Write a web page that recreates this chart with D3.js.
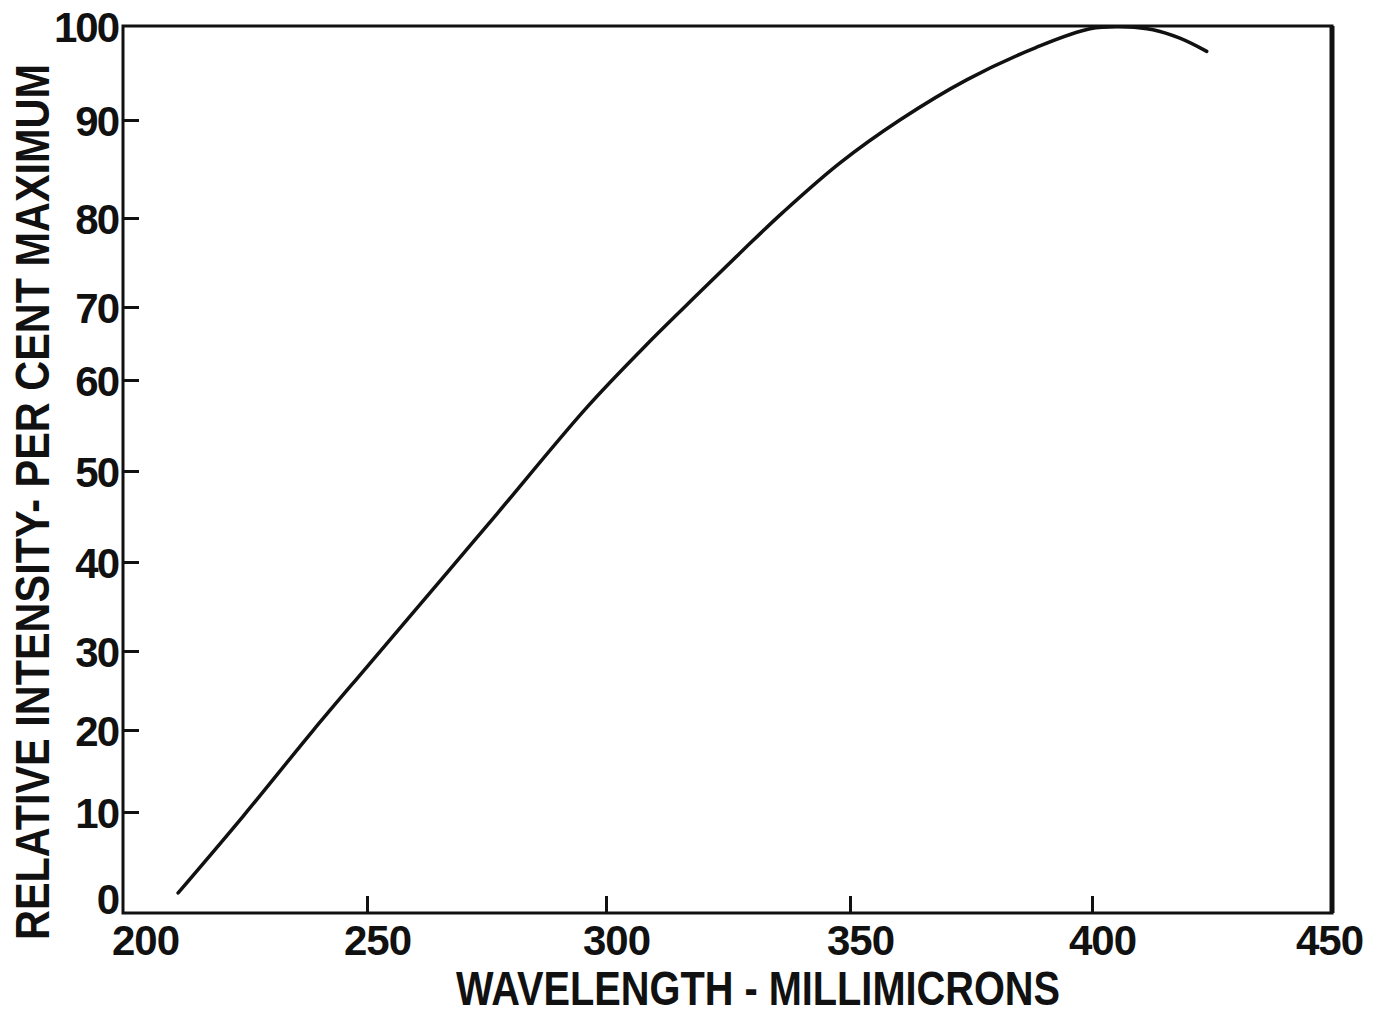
<!DOCTYPE html>
<html>
<head>
<meta charset="utf-8">
<script src="https://cdn.jsdelivr.net/npm/d3@7"></script>
<style>
  body { margin: 0; background: #fff; }
  text { font-family: "Liberation Sans", Arial, sans-serif; font-weight: bold; fill: #111; }
</style>
</head>
<body>
<div id="chart"></div>
<script>
// wavelength (millimicrons)
var wavelength = [211.3, 224.6, 238.9, 250, 266.9, 277.2, 296, 308.4, 319.3, 328.1, 336.3, 347.9, 360.3, 374.2, 388.4, 399.6, 407.3, 412.7, 418.3, 423.9];
// relative intensity, per cent of maximum
var intensity = [0.6, 9.5, 19.9, 28.0, 38.9, 45.3, 57.0, 64.9, 71.7, 76.4, 80.6, 85.6, 90.0, 94.3, 97.7, 99.7, 99.9, 99.6, 98.7, 97.3];

var xTicks = [200, 250, 300, 350, 400, 450];
var yTicks = [0, 10, 20, 30, 40, 50, 60, 70, 80, 90, 100];

var width = 1378, height = 1014;

var svg = d3.select('#chart')
  .append('svg')
  .attr('width', width)
  .attr('height', height);

// the hand drawn grid is not quite even, so the scales are piecewise
var x = d3.scaleLinear()
  .domain(xTicks)
  .range([123, 367, 606, 850, 1092, 1332]);

var y = d3.scaleLinear()
  .domain(yTicks)
  .range([898, 812, 730, 651, 562, 471, 380, 307, 218, 120, 26]);

var frameL = 123, frameR = 1332, frameT = 26, frameB = 913;

// frame
svg.append('rect')
  .attr('x', frameL)
  .attr('y', frameT)
  .attr('width', frameR - frameL)
  .attr('height', frameB - frameT)
  .style('fill', 'none')
  .style('stroke', '#111')
  .style('stroke-width', 3);
svg.append('line')
  .attr('x1', frameR).attr('x2', frameR)
  .attr('y1', frameT).attr('y2', frameB)
  .style('stroke', '#111')
  .style('stroke-width', 5);

// y axis
var yAxis = svg.append('g')
  .attr('transform', 'translate(' + frameL + ',0)')
  .call(d3.axisLeft(y).tickValues(yTicks).tickSizeInner(-16).tickSizeOuter(0).tickPadding(6));
yAxis.select('.domain').remove();
yAxis.selectAll('.tick line').style('stroke', '#111').style('stroke-width', 3)
  .filter(function(d) { return d === 0 || d === 100; }).remove();
yAxis.selectAll('.tick text')
  .attr('x', -5)
  .attr('dy', '0.36em')
  .style('font-size', '42px')
  .style('letter-spacing', '-2px')
  .style('font-family', '"Liberation Sans", Arial, sans-serif')
  .style('font-weight', 'bold')
  .style('fill', '#111');

// x axis
var xAxis = svg.append('g')
  .attr('transform', 'translate(0,' + frameB + ')')
  .call(d3.axisBottom(x).tickValues(xTicks).tickSizeInner(-17).tickSizeOuter(0).tickPadding(8));
xAxis.select('.domain').remove();
xAxis.selectAll('.tick line').style('stroke', '#111').style('stroke-width', 3)
  .filter(function(d) { return d === 200 || d === 450; }).remove();
xAxis.selectAll('.tick text')
  .attr('y', 42)
  .attr('dy', 0)
  .attr('dx', function(d) { return d === 200 ? 22 : (d === 450 ? -3 : 10); })
  .style('font-size', '42px')
  .style('letter-spacing', '-1px')
  .style('font-family', '"Liberation Sans", Arial, sans-serif')
  .style('font-weight', 'bold')
  .style('fill', '#111');

// curve
var pts = wavelength.map(function(w, i) { return [w, intensity[i]]; });
var line = d3.line()
  .x(function(d) { return x(d[0]); })
  .y(function(d) { return y(d[1]); })
  .curve(d3.curveCatmullRom);

svg.append('path')
  .datum(pts)
  .attr('d', line)
  .style('fill', 'none')
  .style('stroke', '#111')
  .style('stroke-width', 3.5)
  .style('stroke-linecap', 'round');

// titles
svg.append('text')
  .attr('x', 758)
  .attr('y', 1005)
  .attr('text-anchor', 'middle')
  .attr('textLength', 604)
  .attr('lengthAdjust', 'spacingAndGlyphs')
  .style('font-size', '48px')
  .text('WAVELENGTH - MILLIMICRONS');

// condensed lettering: smaller font stretched across the stroke
svg.append('text')
  .attr('transform', 'translate(49,502) rotate(-90) scale(1,1.45)')
  .attr('text-anchor', 'middle')
  .attr('textLength', 876)
  .attr('lengthAdjust', 'spacingAndGlyphs')
  .style('font-size', '33px')
  .text('RELATIVE  INTENSITY- PER CENT MAXIMUM');
</script>
</body>
</html>
